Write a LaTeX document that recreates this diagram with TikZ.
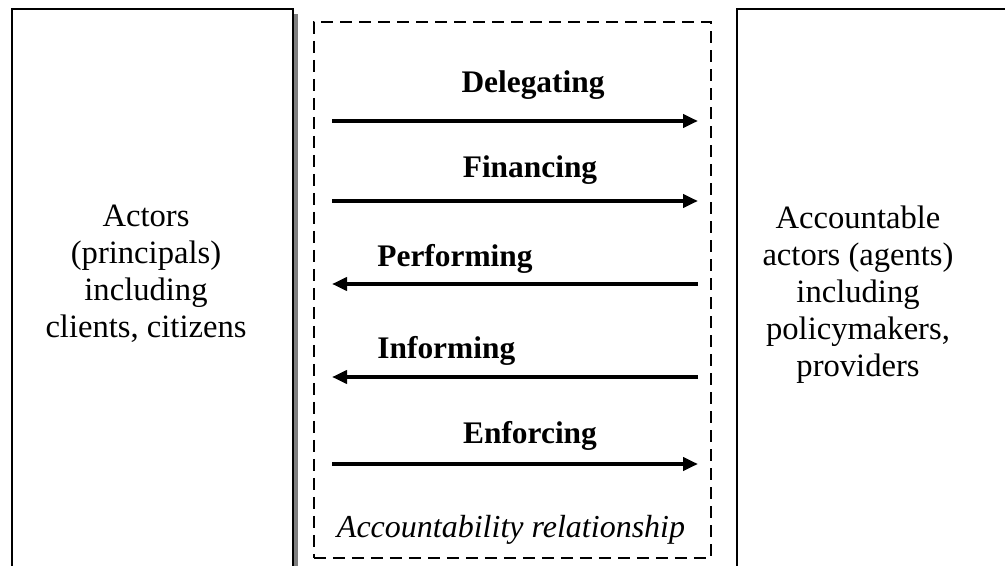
\documentclass[tikz,border=0pt]{standalone}
\usepackage{fontspec}
\setmainfont{Liberation Serif}
\usepackage{tikz}
\usetikzlibrary{arrows.meta,shadows}

\begin{document}
\begin{tikzpicture}[x=0.5pt,y=-0.5pt,
      party/.style={rectangle, draw=black, fill=white, line width=1pt,
                    anchor=north west, minimum height=320pt,
                    drop shadow={shadow xshift=2.5pt, shadow yshift=-2.5pt,
                                 fill=black!50, opacity=1}},
      partytext/.style={anchor=north, inner sep=0pt, align=center,
                        font=\fontsize{16.3}{18.5}\selectfont},
      flow/.style={-{Triangle[length=7.5pt,width=6.5pt]}, line width=2pt},
      tag/.style={inner sep=0pt, font=\fontsize{15.7}{18}\selectfont\bfseries}
    ]
      \useasboundingbox (0,0) rectangle (1005,566);
      % the two sides
      \node[party, minimum width=140.5pt] (actors) at (11,8) {};
      \node[party, minimum width=150pt] (agents) at (736,8) {};
      \node[partytext] (actorstxt) at (146,205)
        {Actors\\(principals)\\including\\clients, citizens};
      \node[partytext] (agentstxt) at (858,205)
        {Accountable\\actors (agents)\\including\\policymakers,\\providers};
      % the relationship in between
      \node[rectangle, draw, line width=0.9pt, dash pattern=on 6pt off 3.5pt,
            anchor=north west, minimum width=198.5pt, minimum height=268pt]
            (relation) at (313,21) {};
      \node[inner sep=0pt, anchor=base, font=\fontsize{16}{18}\selectfont\itshape]
            (reltag) at (511,537) {Accountability relationship};
      \foreach \i/\y in {1/121,2/201,3/284,4/377,5/464}{
        \coordinate (l\i) at (332,\y);
        \coordinate (r\i) at (698,\y);
      }
      \draw[flow] (l1) -- (r1);
      \draw[flow] (l2) -- (r2);
      \draw[flow] (r3) -- (l3);
      \draw[flow] (r4) -- (l4);
      \draw[flow] (l5) -- (r5);
      \node[tag, anchor=base] (deleg) at (533,93) {Delegating};
      \node[tag, anchor=base] (finan) at (530,178) {Financing};
      \node[tag, anchor=base west] (perf) at (377,267) {Performing};
      \node[tag, anchor=base west] (inform) at (377,358) {Informing};
      \node[tag, anchor=base] (enforce) at (530,443) {Enforcing};
    \end{tikzpicture}
\end{document}
